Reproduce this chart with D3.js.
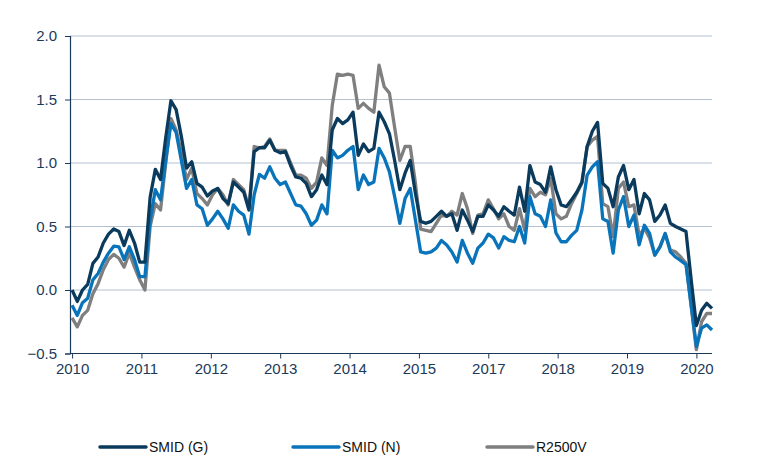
<!DOCTYPE html>
<html lang="en">
<head>
<meta charset="UTF-8">
<title>SMID vs R2500V</title>
<script src="https://d3js.org/d3.v7.min.js"></script>
<style>
  body { margin: 0; background: #fff; }
  svg { display: block; font-family: "Liberation Sans", Arial, sans-serif; }
  .tick text { fill: #1b3a5a; font-size: 15px; }
</style>
</head>
<body>
<svg id="chart"></svg>
<script>
const width = 765, height = 459;

// ==== data (monthly) ====
const xLabels = ["2010", "2011", "2012", "2013", "2014", "2015", "2017", "2018", "2019", "2020"];
const seriesNames = ["SMID (G)", "SMID (N)", "R2500V"];
const seriesColors = ["#0a3a5c", "#0a74ba", "#7f7f7f"];

const smidG = [
  0.00, -0.09, 0.00, 0.045, 0.21, 0.26, 0.37, 0.44, 0.48, 0.46,
  0.35, 0.47, 0.37, 0.22, 0.22, 0.73, 0.95, 0.87, 1.20, 1.49,
  1.42, 1.21, 0.96, 1.01, 0.84, 0.81, 0.74, 0.78, 0.80, 0.72,
  0.68, 0.85, 0.81, 0.77, 0.63, 1.09, 1.12, 1.12, 1.18, 1.10,
  1.08, 1.09, 0.98, 0.89, 0.88, 0.84, 0.735, 0.79, 0.905, 0.83,
  1.26, 1.35, 1.31, 1.34, 1.40, 1.06, 1.15, 1.09, 1.115, 1.40,
  1.325, 1.23, 1.02, 0.79, 0.92, 1.02, 0.76, 0.54, 0.525, 0.54,
  0.58, 0.62, 0.58, 0.60, 0.47, 0.63, 0.55, 0.46, 0.58, 0.58,
  0.67, 0.63, 0.58, 0.656, 0.62, 0.59, 0.81, 0.62, 0.98, 0.85,
  0.83, 0.77, 0.97, 0.79, 0.67, 0.656, 0.71, 0.77, 0.85, 1.13,
  1.25, 1.32, 0.84, 0.80, 0.656, 0.89, 0.98, 0.79, 0.87, 0.60,
  0.76, 0.71, 0.54, 0.59, 0.67, 0.525, 0.50, 0.48, 0.46, 0.08,
  -0.28, -0.16, -0.105, -0.145
];

const smidN = [
  -0.12, -0.20, -0.10, -0.065, 0.08, 0.13, 0.22, 0.29, 0.345, 0.34,
  0.24, 0.34, 0.24, 0.105, 0.105, 0.55, 0.79, 0.71, 1.02, 1.31,
  1.24, 1.02, 0.80, 0.87, 0.67, 0.64, 0.51, 0.56, 0.62, 0.56,
  0.486, 0.67, 0.62, 0.59, 0.44, 0.75, 0.91, 0.88, 0.97, 0.88,
  0.83, 0.85, 0.76, 0.67, 0.66, 0.60, 0.51, 0.55, 0.67, 0.60,
  1.10, 1.04, 1.06, 1.10, 1.13, 0.79, 0.905, 0.83, 0.85, 1.115,
  1.04, 0.93, 0.735, 0.525, 0.72, 0.80, 0.55, 0.30, 0.29, 0.30,
  0.33, 0.39, 0.355, 0.30, 0.22, 0.39, 0.29, 0.21, 0.33, 0.37,
  0.44, 0.41, 0.33, 0.42, 0.39, 0.38, 0.50, 0.37, 0.735, 0.60,
  0.58, 0.50, 0.71, 0.45, 0.38, 0.38, 0.43, 0.47, 0.63, 0.905,
  0.97, 1.01, 0.56, 0.54, 0.29, 0.63, 0.735, 0.50, 0.59, 0.355,
  0.51, 0.445, 0.275, 0.34, 0.445, 0.30, 0.26, 0.23, 0.20, -0.12,
  -0.445, -0.30, -0.275, -0.315
];

const r2500v = [
  -0.22, -0.29, -0.20, -0.16, -0.03, 0.05, 0.16, 0.24, 0.28, 0.25,
  0.18, 0.29, 0.18, 0.08, 0.00, 0.50, 0.68, 0.63, 1.00, 1.35,
  1.26, 1.08, 0.87, 0.96, 0.76, 0.72, 0.67, 0.75, 0.80, 0.75,
  0.67, 0.87, 0.83, 0.79, 0.64, 1.13, 1.12, 1.13, 1.19, 1.10,
  1.10, 1.10, 1.00, 0.905, 0.905, 0.88, 0.80, 0.85, 1.04, 0.98,
  1.45, 1.70, 1.69, 1.70, 1.69, 1.43, 1.47, 1.43, 1.40, 1.77,
  1.60, 1.55, 1.28, 1.02, 1.13, 1.13, 0.84, 0.48, 0.47, 0.46,
  0.525, 0.59, 0.58, 0.62, 0.59, 0.76, 0.64, 0.445, 0.59, 0.60,
  0.71, 0.64, 0.56, 0.60, 0.50, 0.47, 0.64, 0.47, 0.80, 0.735,
  0.77, 0.75, 0.88, 0.60, 0.56, 0.58, 0.68, 0.76, 0.84, 1.13,
  1.18, 1.21, 0.68, 0.656, 0.42, 0.80, 0.85, 0.656, 0.67, 0.43,
  0.486, 0.41, 0.275, 0.34, 0.445, 0.315, 0.30, 0.26, 0.21, -0.13,
  -0.47, -0.25, -0.185, -0.185
];

const yTicks = [-0.5, 0.0, 0.5, 1.0, 1.5, 2.0];

const allSeries = [smidG, smidN, r2500v];

// ==== layout ====
const plotLeft = 70, plotRight = 712, plotTop = 36, plotBottom = 353.5;
const nPts = smidG.length;

const svg = d3.select("#chart").attr("width", width).attr("height", height);

const x = d3.scaleLinear().domain([-0.4, nPts - 1]).range([plotLeft, plotRight]);
const y = d3.scaleLinear().domain([-0.5, 2.0]).range([plotBottom, plotTop]);

// label positions: evenly spaced, 120 months over 9 steps
const tickPos = xLabels.map((d, i) => i * 120 / 9);

// gridlines
svg.append("g")
  .selectAll("line")
  .data(yTicks.filter(d => d > -0.5))
  .join("line")
  .attr("x1", plotLeft).attr("x2", plotRight)
  .attr("y1", d => y(d)).attr("y2", d => y(d))
  .attr("stroke", "#b3c0d0")
  .attr("stroke-width", 1);

// y axis
const yAxis = svg.append("g")
  .attr("transform", `translate(${plotLeft},0)`)
  .call(d3.axisLeft(y).tickValues(yTicks).tickFormat(d3.format(".1f")).tickSize(5).tickPadding(8));
yAxis.select(".domain").attr("stroke", "#1b3a5a").attr("stroke-width", 1.2);
yAxis.selectAll(".tick line").attr("stroke", "#1b3a5a");

// x axis
const xAxis = svg.append("g")
  .attr("transform", `translate(0,${plotBottom})`)
  .call(d3.axisBottom(x).tickValues(tickPos).tickFormat((d, i) => xLabels[i]).tickSize(5).tickSizeOuter(0).tickPadding(5));
xAxis.select(".domain").attr("d", `M${plotLeft},0H${plotRight}`).attr("stroke", "#1b3a5a").attr("stroke-width", 1.2);
xAxis.selectAll(".tick line").attr("stroke", "#1b3a5a");

// lines (grey first, navy on top)
const line = d3.line()
  .x((d, i) => x(i))
  .y(d => y(d));

[2, 1, 0].forEach(k => {
  svg.append("path")
    .datum(allSeries[k])
    .attr("fill", "none")
    .attr("stroke", seriesColors[k])
    .attr("stroke-width", 3.3)
    .attr("stroke-linejoin", "round")
    .attr("d", line);
});

// legend
const legendX = [100, 293, 487];
const legendY = 447;
const legend = svg.append("g");
seriesNames.forEach((name, i) => {
  legend.append("line")
    .attr("x1", legendX[i]).attr("x2", legendX[i] + 46)
    .attr("y1", legendY).attr("y2", legendY)
    .attr("stroke", seriesColors[i])
    .attr("stroke-width", 3.5)
    .attr("stroke-linecap", "round");
  legend.append("text")
    .attr("x", legendX[i] + 49)
    .attr("y", legendY)
    .attr("dy", "0.35em")
    .attr("fill", "#111")
    .attr("font-size", 14)
    .text(name);
});
</script>
</body>
</html>
